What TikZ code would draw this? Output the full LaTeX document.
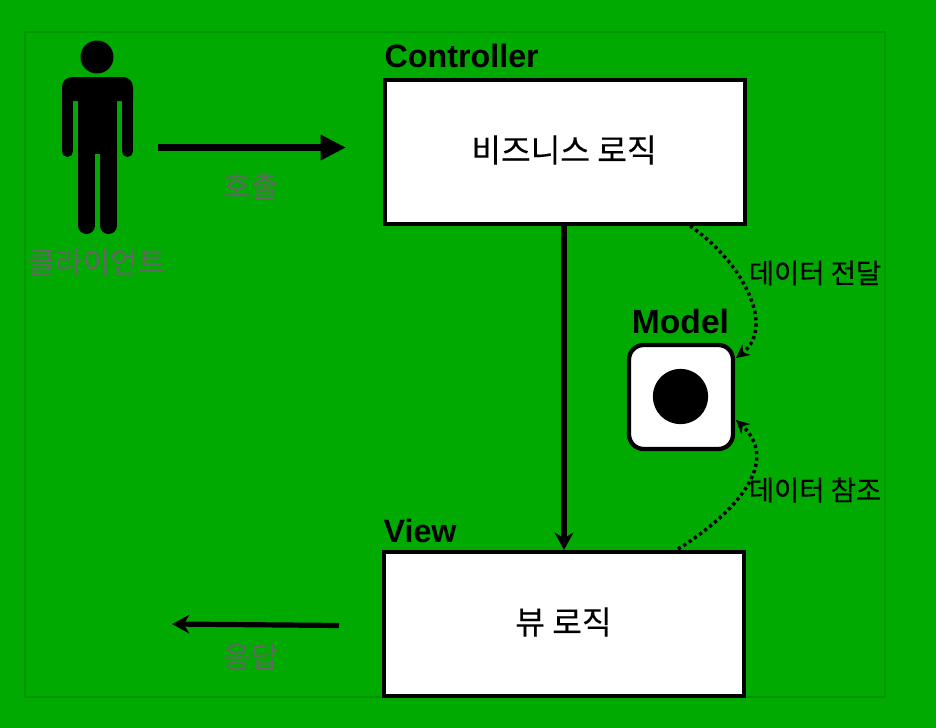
\documentclass[tikz,border=0pt]{standalone}
\usepackage{fontspec}
\setmainfont{Liberation Sans}
\newfontfamily\krfont{Noto Sans CJK KR}
\newfontfamily\krheavy[FakeBold=0.25]{Noto Sans CJK KR}
\usetikzlibrary{arrows.meta,positioning}
\definecolor{bggreen}{RGB}{0,170,0}
\definecolor{framegreen}{RGB}{0,150,0}
\definecolor{labelgray}{RGB}{102,102,102}

\begin{document}
\begin{tikzpicture}[x=0.75pt,y=-0.75pt,
  box/.style={draw, fill=white, line width=3pt, minimum width=270pt, minimum height=108pt},
  title/.style={font=\fontsize{24.2}{24}\selectfont\bfseries, inner sep=0pt},
  kr/.style={font=\krheavy\fontsize{24.2}{26}\selectfont, inner sep=0pt},
  krsmall/.style={font=\krheavy\fontsize{20.6}{22}\selectfont, inner sep=0pt},
  krgray/.style={font=\krfont\fontsize{22.3}{24}\selectfont, text=labelgray, inner sep=0pt},
  flow/.style={-{Stealth[length=13pt,width=14pt]}, line width=3.9pt},
  data/.style={-{Stealth[length=10pt,width=10pt]}, line width=2.6pt, dash pattern=on 2.4pt off 2.4pt}]
\useasboundingbox (0,0) rectangle (936,728);
\fill[bggreen] (0,0) rectangle (936,728);
\draw[framegreen, line width=1pt] (25,32) rectangle (885,697);

% client figure
\fill (97,57) circle (16.5);
\fill (62,101) [rounded corners=7.5pt] -- (62,77) -- (133,77) [sharp corners] -- (133,101) -- cycle;
\fill (78,95) rectangle (117,154);
\foreach \x in {67.5,127.5}{
  \draw[line width=8.25pt, line cap=round] (\x,90) -- (\x,151.5);
}
\foreach \x in {86.5,108.5}{
  \draw[line width=12.75pt, line cap=round] (\x,150) -- (\x,225.5);
}
\node[krgray] (client) at (97,262) {클라이언트};

% boxes
\node[box] (controller) at (565,152) {};
\node[kr] (controllertext) at (564,150) {비즈니스 로직};
\node[title, above=7.5pt of controller.north west, anchor=south west, xshift=1pt] (controllertitle) {Controller};
\node[box] (view) at (564,624) {};
\node[kr] (viewtext) at (563.5,622) {뷰 로직};
\node[title, above=5pt of view.north west, anchor=south west, xshift=1pt] (viewtitle) {View};
\node[draw, fill=white, line width=3.2pt, rounded corners=11pt, minimum size=78pt] (model) at (681,397) {};
\node[circle, fill=black, minimum size=41.5pt, inner sep=0pt] (modeldot) at (680.5,396.5) {};
\node[title, font=\fontsize{25.2}{25}\selectfont\bfseries] (modeltitle) at (680.5,321) {Model};

% free ends
\coordinate (callstart) at (158,147.5);
\coordinate (callend) at (346,147.5);
\coordinate (replystart) at (339,625.5);
\coordinate (replyend) at (172,624);
\coordinate (passstart) at (690,226);
\coordinate (passend) at (736,358);
\coordinate (readstart) at (678,549);
\coordinate (readend) at (736,420);

\draw[line width=4.8pt, -{Triangle[length=19pt,width=18pt]}] (callstart) -- (callend);
\node[krgray] (calltext) at (251,186) {호출};
\draw[flow] (replystart) -- (replyend);
\node[krgray] (replytext) at (251,657) {응답};
\draw[flow] (controller.south -| 564,0) -- (view.north -| 564,0);
\draw[data] (passstart) .. controls (738,258) and (778,325) .. (passend);
\node[krsmall] (passtext) at (815,273) {데이터 전달};
\draw[data] (readstart) .. controls (725,520) and (785,465) .. (readend);
\node[krsmall] (readtext) at (815,490) {데이터 참조};
\end{tikzpicture}
\end{document}
